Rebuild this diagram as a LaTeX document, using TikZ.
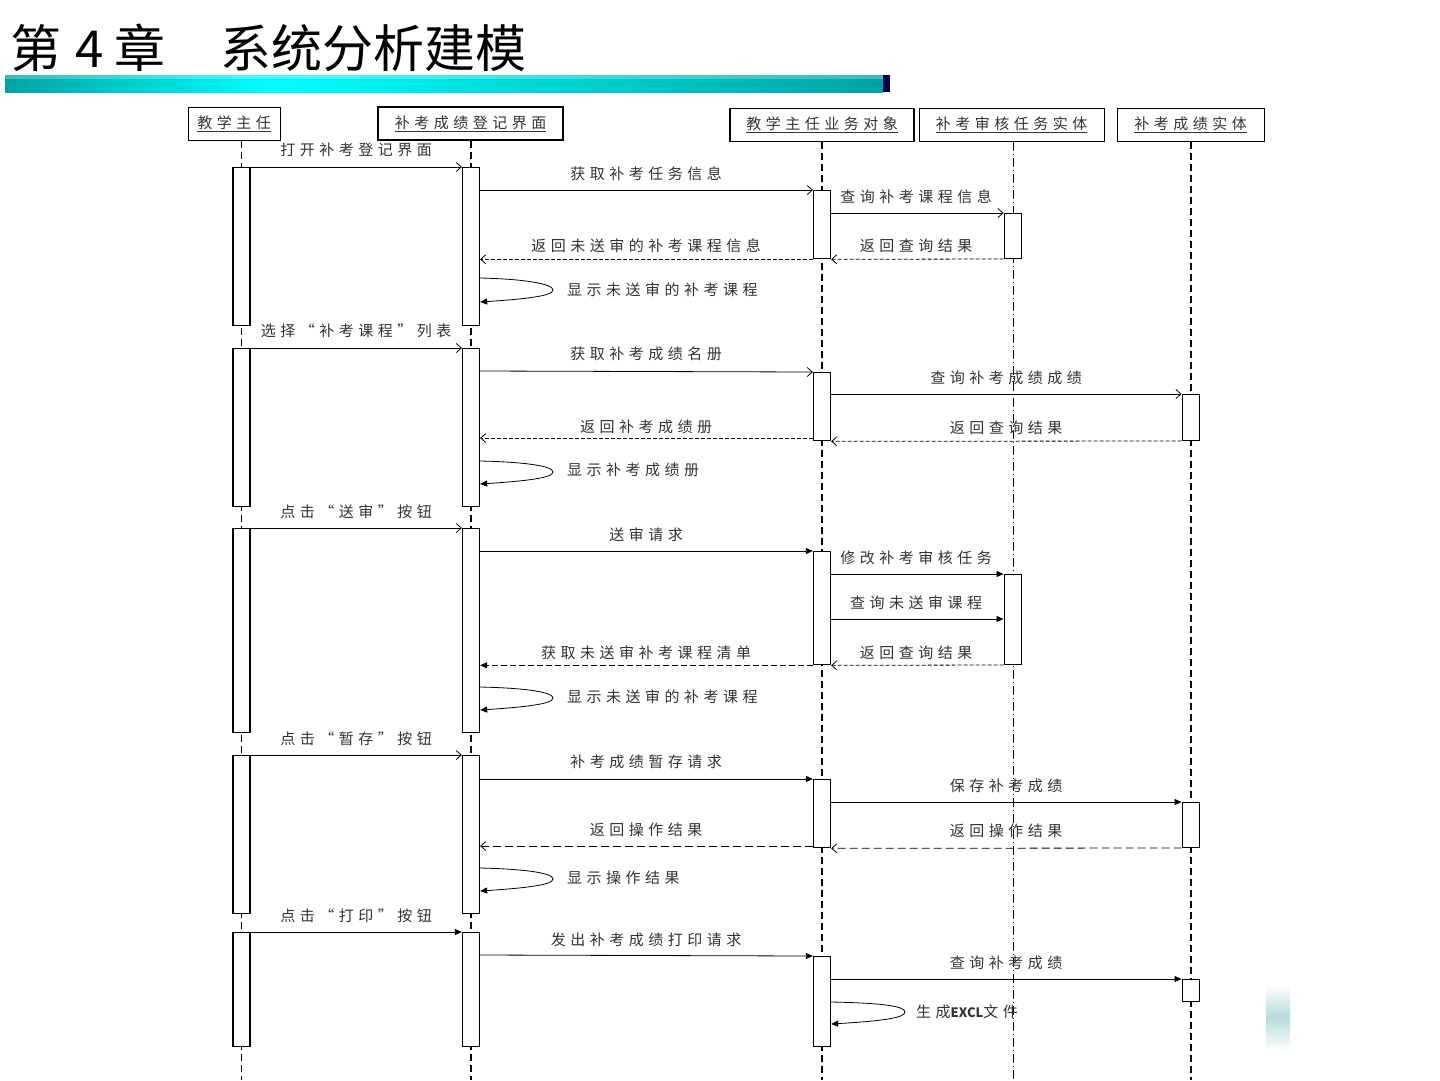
\documentclass[tikz,border=0pt]{standalone}
\usepackage{fontspec}
\usetikzlibrary{arrows.meta}
\newfontfamily\dfont[LetterSpace=30]{Noto Sans CJK SC}
\newfontfamily\tfont{Noto Sans CJK SC}
\newcommand{\dsz}{\dfont\fontsize{15}{17}\selectfont}
\newcommand{\lat}[1]{{\tfont\fontsize{13}{16}\selectfont\bfseries #1}}
\begin{document}
\begin{tikzpicture}[x=1pt,y=-1pt,
  hdr/.style={draw, line width=1pt, minimum height=33pt, inner sep=0pt, font=\dsz, text=black!80},
  actbar/.style={draw, fill=white, line width=1.3pt, minimum width=17pt, anchor=north, inner sep=0pt},
  lifethick/.style={line width=1.6pt, dash pattern=on 7pt off 4pt},
  lifethin/.style={line width=0.9pt, dash pattern=on 7pt off 4pt},
  msg/.style={line width=0.8pt, -{Straight Barb[length=5pt,width=9pt]}},
  msgf/.style={line width=0.8pt, -{Triangle[length=7pt,width=6pt]}},
  ret/.style={line width=0.8pt, dash pattern=on 4pt off 2pt, -{Straight Barb[length=5pt,width=9pt]}},
  retf/.style={line width=0.8pt, dash pattern=on 6pt off 3pt, -{Triangle[length=7pt,width=6pt]}},
  selfm/.style={line width=0.8pt, -{Triangle[length=7pt,width=6pt]}},
  lbl/.style={font=\dsz, text=black!80, inner sep=0pt},
  lbll/.style={font=\dsz, text=black!80, inner sep=0pt, anchor=west}
]
\useasboundingbox (0,0) rectangle (1440,1080);
\fill[white] (0,0) rectangle (1440,1080);

% title
\node[anchor=base west, inner sep=0pt, font=\tfont\fontsize{51}{55}\selectfont] (title) at (10,67)
  {第\hspace{14pt}4\hspace{11pt}章\hspace{55pt}系统分析建模};
\shade[left color=cyan!50!teal!85!black, right color=cyan] (5,75) rectangle (270,92);
\shade[left color=cyan, right color=cyan!50!teal!85!black] (270,75) rectangle (883,92);
\fill[blue!30!black] (883,75) rectangle (890,92);
\fill[white, opacity=0.25] (5,75) rectangle (883,79);

% header boxes
\node[hdr, minimum width=92pt] (h1) at (234,123.5) {\underline{教学主任}};
\node[hdr, minimum width=185pt, line width=1.5pt] (h2) at (470.5,123.5) {\underline{补考成绩登记界面}};
\node[hdr, minimum width=184pt, line width=1.3pt] (h3) at (822,125) {\underline{教学主任业务对象}};
\node[hdr, minimum width=185pt] (h4) at (1011.5,125) {\underline{补考审核任务实体}};
\node[hdr, minimum width=147pt] (h5) at (1190.5,125) {\underline{补考成绩实体}};

% lifelines
\draw[lifethin] (h1.south -| 241,0) -- (241,1080);
\draw[lifethick] (h2.south -| 471,0) -- (471,1080);
\draw[lifethick] (h3.south -| 822,0) -- (822,1080);
\draw[lifethin, dash pattern=on 9pt off 3pt on 1pt off 3pt] (h4.south -| 1013,0) -- (1013,1080);
\draw[lifethick] (h5.south -| 1191,0) -- (1191,1080);

% ===== group 1 =====
\node[actbar, minimum height=158pt] (a11) at (241.5,167) {};
\node[actbar, minimum height=158pt] (a12) at (471,167) {};
\node[actbar, minimum height=68pt] (a13) at (822,190) {};
\node[actbar, minimum height=45pt, line width=1pt] (a14) at (1012.5,213) {};
\draw[msg] (a11.north east) -- (a12.north west);
\node[lbl] (l11) at (356,150) {打开补考登记界面};
\draw[msg] (a12.east |- a13.north) -- (a13.north west);
\node[lbl] (l12) at (646,174) {获取补考任务信息};
\draw[msg] (a13.east |- a14.north) -- (a14.north west);
\node[lbl] (l13) at (916,197) {查询补考课程信息};
\draw[ret] (a14.south west) -- (a13.south east);
\node[lbl] (l14) at (916,246) {返回查询结果};
\draw[ret] (a13.south west) -- (a12.east |- a13.south);
\node[lbl] (l15) at (646,246) {返回未送审的补考课程信息};
\draw[selfm] (a12.east |- 0,278) .. controls +(45,1) and +(0,-6) .. (553,290)
  .. controls +(0,6) and +(45,-3) .. (a12.east |- 0,302);
\node[lbll] (l16) at (567,290) {显示未送审的补考课程};

% ===== group 2 =====
\node[actbar, minimum height=158pt] (a21) at (241.5,348) {};
\node[actbar, minimum height=158pt] (a22) at (471,348) {};
\node[actbar, minimum height=68pt] (a23) at (822,372) {};
\node[actbar, minimum height=46pt, line width=1pt] (a25) at (1190.5,394) {};
\draw[msg] (a21.north east) -- (a22.north west);
\node[lbl] (l21) at (356,331) {选择“补考课程”列表};
\draw[msg] (a22.east |- 0,371) -- (a23.north west);
\node[lbl] (l22) at (646,354) {获取补考成绩名册};
\draw[msg] (a23.east |- a25.north) -- (a25.north west);
\node[lbl] (l23) at (1006,378) {查询补考成绩成绩};
\draw[ret] (a25.south west) -- (a23.south east);
\node[lbl] (l24) at (1006,428) {返回查询结果};
\draw[ret] (a23.south west |- 0,438) -- (a22.east |- 0,438);
\node[lbl] (l25) at (646,427) {返回补考成绩册};
\draw[selfm] (a22.east |- 0,461) .. controls +(45,1) and +(0,-6) .. (553,472)
  .. controls +(0,6) and +(45,-3) .. (a22.east |- 0,484);
\node[lbll] (l26) at (567,470) {显示补考成绩册};

% ===== group 3 =====
\node[actbar, minimum height=204pt] (a31) at (241.5,528) {};
\node[actbar, minimum height=204pt] (a32) at (471,528) {};
\node[actbar, minimum height=113pt] (a33) at (822,551) {};
\node[actbar, minimum height=90pt, line width=1pt] (a34) at (1012.5,574) {};
\draw[msg] (a31.north east) -- (a32.north west);
\node[lbl] (l31) at (356,512) {点击“送审”按钮};
\draw[msgf] (a32.east |- a33.north) -- (a33.north west);
\node[lbl] (l32) at (646,535) {送审请求};
\draw[msgf] (a33.east |- a34.north) -- (a34.north west);
\node[lbl] (l33) at (916,558) {修改补考审核任务};
\draw[msgf] (a33.east |- 0,619) -- (a34.west |- 0,619);
\node[lbl] (l34) at (916,603) {查询未送审课程};
\draw[ret] (a34.south west) -- (a33.south east);
\node[lbl] (l35) at (916,653) {返回查询结果};
\draw[retf] (a33.south west) -- (a32.east |- a33.south);
\node[lbl] (l36) at (646,653) {获取未送审补考课程清单};
\draw[selfm] (a32.east |- 0,687) .. controls +(45,1) and +(0,-6) .. (553,698)
  .. controls +(0,6) and +(45,-3) .. (a32.east |- 0,710);
\node[lbll] (l37) at (567,697) {显示未送审的补考课程};

% ===== group 4 =====
\node[actbar, minimum height=158pt] (a41) at (241.5,755) {};
\node[actbar, minimum height=158pt] (a42) at (471,755) {};
\node[actbar, minimum height=68pt] (a43) at (822,779) {};
\node[actbar, minimum height=45pt, line width=1pt] (a45) at (1190.5,802) {};
\draw[msg] (a41.north east) -- (a42.north west);
\node[lbl] (l41) at (356,739) {点击“暂存”按钮};
\draw[msgf] (a42.east |- a43.north) -- (a43.north west);
\node[lbl] (l42) at (646,762) {补考成绩暂存请求};
\draw[msgf] (a43.east |- a45.north) -- (a45.north west);
\node[lbl] (l43) at (1006,786) {保存补考成绩};
\draw[ret, dash pattern=on 8pt off 4pt] (a45.south west) -- (a43.south east);
\node[lbl] (l44) at (1006,831) {返回操作结果};
\draw[ret, dash pattern=on 8pt off 4pt] (a43.south west |- 0,846) -- (a42.east |- 0,846);
\node[lbl] (l45) at (646,830) {返回操作结果};
\draw[selfm] (a42.east |- 0,868) .. controls +(45,1) and +(0,-6) .. (553,879)
  .. controls +(0,6) and +(45,-3) .. (a42.east |- 0,891);
\node[lbll] (l46) at (567,878) {显示操作结果};

% ===== group 5 =====
\node[actbar, minimum height=114pt] (a51) at (241.5,932) {};
\node[actbar, minimum height=114pt] (a52) at (471,932) {};
\node[actbar, minimum height=90pt] (a53) at (822,956) {};
\node[actbar, minimum height=22pt, line width=1pt] (a55) at (1190.5,979) {};
\draw[msgf] (a51.north east) -- (a52.north west);
\node[lbl] (l51) at (356,916) {点击“打印”按钮};
\draw[msgf] (a52.east |- 0,955) -- (a53.north west);
\node[lbl] (l52) at (646,940) {发出补考成绩打印请求};
\draw[msgf] (a53.east |- a55.north) -- (a55.north west);
\node[lbl] (l53) at (1006,963) {查询补考成绩};
\draw[selfm] (a53.east |- 0,1002) .. controls +(50,1) and +(0,-6) .. (905,1012)
  .. controls +(0,6) and +(50,-3) .. (a53.east |- 0,1024);
\node[lbll] (l54) at (916,1012) {生成\lat{EXCL}文件};

% decoration fragment (bottom right)
\shade[top color=white, bottom color=white, middle color=teal!35, opacity=0.8] (1266,985) rectangle (1290,1050);
\end{tikzpicture}
\end{document}
